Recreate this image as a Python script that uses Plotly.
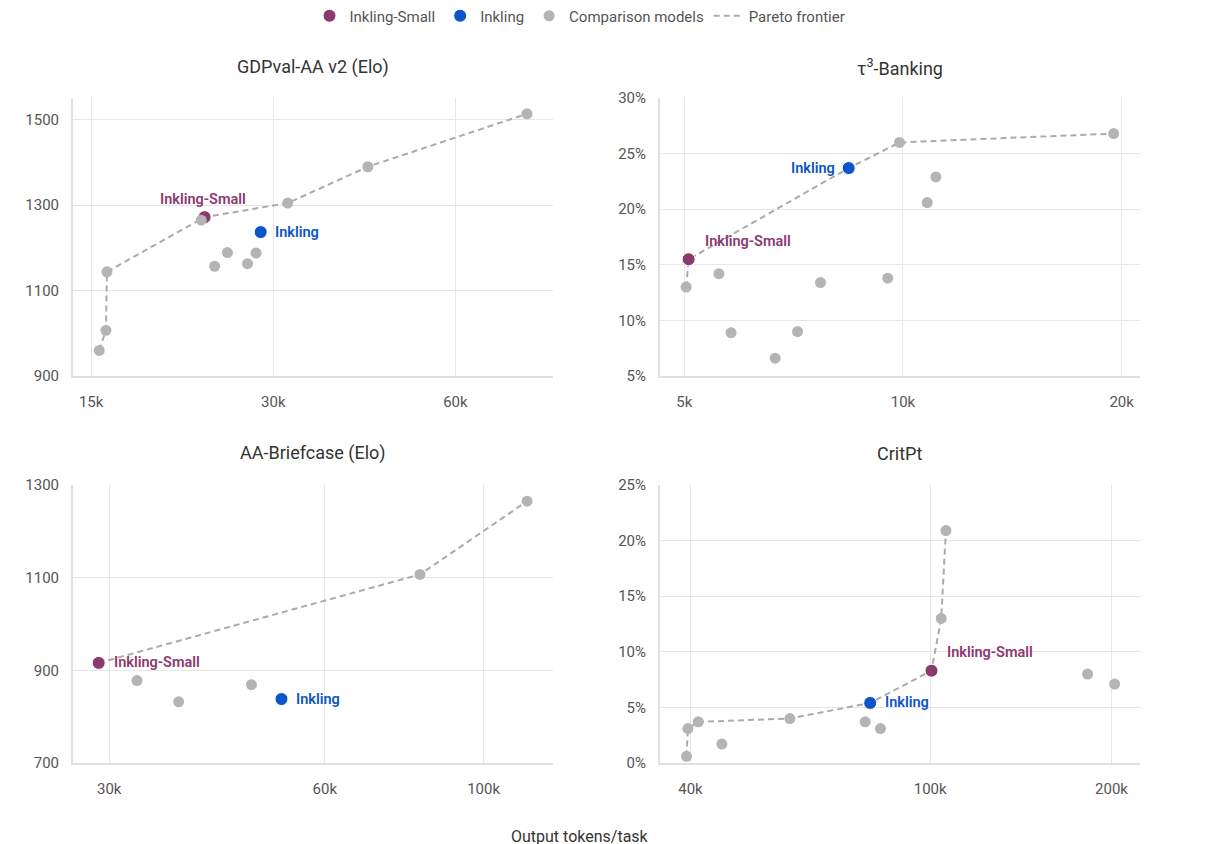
import math
import plotly.graph_objects as go

# ---- data ----
# GDPval-AA v2 (Elo)
gdp_gray_x = [15470, 15870, 15930, 22810, 24000, 25200, 27200, 28100, 31700, 43000, 78800]
gdp_gray_y = [960, 1007, 1144, 1265, 1157, 1189, 1163, 1188, 1305, 1390, 1514]
gdp_small = [23100, 1272]
gdp_inkling = [28600, 1237]
gdp_front_x = [15470, 15870, 15930, 23100, 31700, 43000, 78800]
gdp_front_y = [960, 1007, 1144, 1272, 1305, 1390, 1514]

# tau3-Banking (%)
bank_gray_x = [5030, 5580, 5800, 6670, 7160, 7700, 9530, 9890, 10800, 11100, 19500]
bank_gray_y = [13.0, 14.2, 8.9, 6.6, 9.0, 13.4, 13.8, 26.0, 20.6, 22.9, 26.8]
bank_small = [5070, 15.5]
bank_inkling = [8420, 23.7]
bank_front_x = [5030, 5070, 8420, 9890, 19500]
bank_front_y = [13.0, 15.5, 23.7, 26.0, 26.8]

# AA-Briefcase (Elo)
brief_gray_x = [32800, 37500, 47400, 81500, 115000]
brief_gray_y = [878, 832, 869, 1107, 1265]
brief_small = [29000, 916]
brief_inkling = [52200, 838]
brief_front_x = [29000, 81500, 115000]
brief_front_y = [916, 1107, 1265]

# CritPt (%)
crit_gray_x = [39400, 39600, 41200, 45100, 58500, 78000, 82700, 104300, 106200, 182500, 202400]
crit_gray_y = [0.6, 3.1, 3.7, 1.7, 4.0, 3.7, 3.1, 13.0, 20.9, 8.0, 7.1]
crit_small = [100500, 8.3]
crit_inkling = [79500, 5.4]
crit_front_x = [39400, 39600, 41200, 58500, 79500, 100500, 104300, 106200]
crit_front_y = [0.6, 3.1, 3.7, 4.0, 5.4, 8.3, 13.0, 20.9]

titles = ["GDPval-AA v2 (Elo)", "τ<sup>3</sup>-Banking", "AA-Briefcase (Elo)", "CritPt"]
x_ticks = [[15000, 30000, 60000], [5000, 10000, 20000], [30000, 60000, 100000], [40000, 100000, 200000]]
x_ticktext = [["15k", "30k", "60k"], ["5k", "10k", "20k"], ["30k", "60k", "100k"], ["40k", "100k", "200k"]]
y_ticks = [[900, 1100, 1300, 1500], [5, 10, 15, 20, 25, 30], [700, 900, 1100, 1300], [0, 5, 10, 15, 20, 25]]

PURPLE = "#8B3A6E"
BLUE = "#0A55C8"
GRAY = "#B4B4B4"
LINE = "#ABABAB"
TXT = "#555555"
FONT = "Roboto, Arial, sans-serif"

W, H = 1214, 844
PAGE_OFFSET = 8  # default body margin of the html page


def px(x):
    return (x - PAGE_OFFSET) / W


def py(y):
    return 1 - (y - PAGE_OFFSET) / H


panels = [
    dict(gray=(gdp_gray_x, gdp_gray_y), small=gdp_small, ink=gdp_inkling, front=(gdp_front_x, gdp_front_y),
         xr=[14000, 87000], yr=[900, 1551], suffix="",
         small_lbl=dict(xanchor="center", yanchor="bottom", xshift=-2, yshift=7),
         ink_lbl=dict(xanchor="left", yanchor="middle", xshift=12, yshift=0)),
    dict(gray=(bank_gray_x, bank_gray_y), small=bank_small, ink=bank_inkling, front=(bank_front_x, bank_front_y),
         xr=[4630, 21200], yr=[5, 30], suffix="%",
         small_lbl=dict(xanchor="left", yanchor="middle", xshift=14, yshift=18),
         ink_lbl=dict(xanchor="right", yanchor="middle", xshift=-12, yshift=0)),
    dict(gray=(brief_gray_x, brief_gray_y), small=brief_small, ink=brief_inkling, front=(brief_front_x, brief_front_y),
         xr=[26700, 125000], yr=[700, 1300], suffix="",
         small_lbl=dict(xanchor="left", yanchor="middle", xshift=13, yshift=0),
         ink_lbl=dict(xanchor="left", yanchor="middle", xshift=13, yshift=0)),
    dict(gray=(crit_gray_x, crit_gray_y), small=crit_small, ink=crit_inkling, front=(crit_front_x, crit_front_y),
         xr=[35600, 223000], yr=[0, 25], suffix="%",
         small_lbl=dict(xanchor="left", yanchor="middle", xshift=13, yshift=18),
         ink_lbl=dict(xanchor="left", yanchor="middle", xshift=13, yshift=0)),
]

left_col, right_col = [px(73), px(553)], [px(660), px(1140)]
top_row, bottom_row = [py(376), py(98)], [py(763), py(485)]
x_domains = [left_col, right_col, left_col, right_col]
y_domains = [top_row, top_row, bottom_row, bottom_row]
title_y = [py(67), py(67), py(453), py(453)]

fig = go.Figure()
annotations = []

for i, p in enumerate(panels):
    n = "" if i == 0 else str(i + 1)
    xa, ya = "x" + n, "y" + n
    first = i == 0
    fig.add_trace(go.Scatter(x=p["front"][0], y=p["front"][1], mode="lines", xaxis=xa, yaxis=ya,
                             line=dict(color=LINE, width=2, dash="6px,4px"),
                             name="Pareto frontier", legendrank=4, showlegend=first, hoverinfo="skip"))
    fig.add_trace(go.Scatter(x=[p["small"][0]], y=[p["small"][1]], mode="markers", xaxis=xa, yaxis=ya,
                             marker=dict(color=PURPLE, size=13, line=dict(color="white", width=1)),
                             name="Inkling-Small", legendrank=1, showlegend=first))
    fig.add_trace(go.Scatter(x=[p["ink"][0]], y=[p["ink"][1]], mode="markers", xaxis=xa, yaxis=ya,
                             marker=dict(color=BLUE, size=13, line=dict(color="white", width=1)),
                             name="Inkling", legendrank=2, showlegend=first))
    fig.add_trace(go.Scatter(x=p["gray"][0], y=p["gray"][1], mode="markers", xaxis=xa, yaxis=ya,
                             marker=dict(color=GRAY, size=11),
                             name="Comparison models", legendrank=3, showlegend=first))

    axis_common = dict(showgrid=True, gridcolor="#E6E6E6", gridwidth=1, zeroline=False,
                       showline=True, linecolor="#E0E0E0", linewidth=2, ticks="",
                       tickfont=dict(size=15, color=TXT, family=FONT))
    fig.layout["xaxis" + n] = dict(axis_common, type="log", domain=x_domains[i], anchor=ya,
                                   range=[math.log10(p["xr"][0]), math.log10(p["xr"][1])],
                                   tickvals=x_ticks[i], ticktext=x_ticktext[i], ticklabelstandoff=11)
    fig.layout["yaxis" + n] = dict(axis_common, domain=y_domains[i], anchor=xa, range=p["yr"],
                                   tickvals=y_ticks[i],
                                   ticktext=[f"{v}{p['suffix']}" for v in y_ticks[i]],
                                   ticklabelstandoff=9)

    annotations.append(dict(x=math.log10(p["small"][0]), y=p["small"][1], xref=xa, yref=ya,
                            text="Inkling-Small", showarrow=False,
                            font=dict(size=14.5, color=PURPLE, family=FONT, weight=600), **p["small_lbl"]))
    annotations.append(dict(x=math.log10(p["ink"][0]), y=p["ink"][1], xref=xa, yref=ya,
                            text="Inkling", showarrow=False,
                            font=dict(size=14.5, color=BLUE, family=FONT, weight=600), **p["ink_lbl"]))
    annotations.append(dict(x=sum(x_domains[i]) / 2, y=title_y[i], xref="paper", yref="paper",
                            text=titles[i], showarrow=False, xanchor="center", yanchor="middle",
                            font=dict(size=18, color="#333333", family=FONT)))

annotations.append(dict(x=px(580), y=py(836), xref="paper", yref="paper", text="Output tokens/task",
                        showarrow=False, xanchor="center", yanchor="middle",
                        font=dict(size=16, color="#333333", family=FONT)))

fig.update_layout(
    width=W, height=H,
    margin=dict(l=0, r=0, t=0, b=0, autoexpand=False),
    paper_bgcolor="white", plot_bgcolor="white",
    font=dict(family=FONT, color=TXT),
    annotations=annotations,
    showlegend=True,
    legend=dict(orientation="h", x=px(580), xanchor="center", y=py(16), yanchor="middle",
                font=dict(size=15, color=TXT, family=FONT), itemwidth=30,
                traceorder="normal", bgcolor="rgba(0,0,0,0)"),
)

fig.write_html("out.html")
